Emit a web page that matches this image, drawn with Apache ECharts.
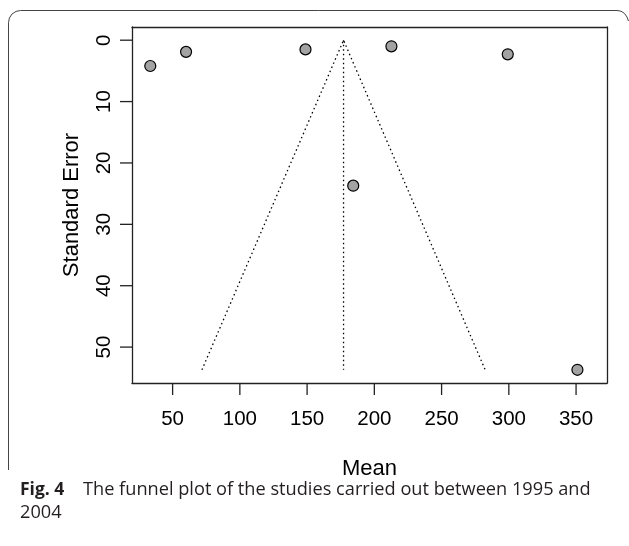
<!DOCTYPE html>
<html>
<head>
<meta charset="utf-8">
<script src="https://cdn.jsdelivr.net/npm/echarts@6/dist/echarts.min.js"></script>
<style>
html,body{margin:0;padding:0;background:#fff;}
#c{width:629px;height:546px;}
</style>
</head>
<body>
<div id="c"></div>
<script>
// Study points: [mean, standard error]
var studyMeans = [33.4, 60.0, 148.8, 212.7, 299.2, 184.3, 351.0];
var studySE    = [4.2, 1.9, 1.5, 1.0, 2.3, 23.7, 53.7];
// Funnel
var centerMean = 177.1;
var funnelLeftX = 71.8;
var funnelRightX = 282.4;
var funnelBottomSE = 53.7;
// Axes
var xTicks = [50, 100, 150, 200, 250, 300, 350];
var yTicks = [0, 10, 20, 30, 40, 50];
var xRange = [19.8, 373];
var yRange = [-2.15, 55.85];

var points = studyMeans.map(function(m, i){ return [m, studySE[i]]; });
var funnelData = [[funnelLeftX, funnelBottomSE], [centerMean, 0], [funnelRightX, funnelBottomSE]];
var centerData = [[centerMean, 0], [centerMean, funnelBottomSE]];
var xTickData = xTicks.map(function(v){ return [v, yRange[1]]; });
var yTickData = yTicks.map(function(v){ return [xRange[0], v]; });

var chart = echarts.init(document.getElementById('c'), null, {renderer:'canvas'});
var FONT = 'Liberation Sans, Arial, sans-serif';
var dotted = {color:'#000', width:1.3, type:[1.5, 3]};
var TICK_LEN = 12;

function frameAxis(base){
  return Object.assign({
    axisLine:{show:true, onZero:false, lineStyle:{color:'#222', width:1.3}},
    axisTick:{show:false}, axisLabel:{show:false}, splitLine:{show:false}
  }, base);
}

function tickSeries(data, horizontal){
  return {
    type:'custom', coordinateSystem:'cartesian2d', data:data, clip:false, silent:true, z:3,
    encode:{x:0, y:1},
    renderItem:function(params, api){
      var p = api.coord([api.value(0), api.value(1)]);
      var shape = horizontal
        ? {x1:p[0], y1:p[1], x2:p[0] - TICK_LEN, y2:p[1]}
        : {x1:p[0], y1:p[1], x2:p[0], y2:p[1] + TICK_LEN};
      return {type:'line', shape:shape, style:{stroke:'#222', lineWidth:1.3}};
    }
  };
}

chart.setOption({
  animation: false,
  backgroundColor: '#fff',
  grid: {left:132, right:22, top:27, bottom:163, show:false},
  xAxis: [{
    type:'value', min:xRange[0], max:xRange[1], position:'bottom',
    axisLine:{show:true, onZero:false, lineStyle:{color:'#222', width:1.3}},
    splitLine:{show:false},
    axisTick:{show:false},
    axisLabel:{customValues:xTicks, margin:26, fontFamily:FONT, fontSize:20.5, color:'#000'},
    name:'Mean', nameLocation:'middle', nameGap:75,
    nameTextStyle:{fontFamily:FONT, fontSize:22, color:'#000'}
  }, frameAxis({type:'value', min:xRange[0], max:xRange[1], position:'top'})],
  yAxis: [{
    type:'value', inverse:true, min:yRange[0], max:yRange[1], position:'left',
    axisLine:{show:true, onZero:false, lineStyle:{color:'#222', width:1.3}},
    splitLine:{show:false},
    axisTick:{show:false},
    axisLabel:{customValues:yTicks, rotate:90, margin:17, fontFamily:FONT, fontSize:20.5, color:'#000'},
    name:'Standard Error', nameLocation:'middle', nameGap:49, nameRotate:90,
    nameTextStyle:{fontFamily:FONT, fontSize:22, color:'#000'}
  }, frameAxis({type:'value', inverse:true, min:yRange[0], max:yRange[1], position:'right'})],
  series: [
    {type:'line', data:funnelData, showSymbol:false, symbol:'none', lineStyle:dotted, z:2, silent:true},
    {type:'line', data:centerData, showSymbol:false, symbol:'none', lineStyle:dotted, z:2, silent:true},
    tickSeries(xTickData, false),
    tickSeries(yTickData, true),
    {type:'scatter', data:points, symbol:'circle', symbolSize:11,
     itemStyle:{color:'#a3a3a3', borderColor:'#000', borderWidth:1.2, opacity:1}, z:5}
  ],
  graphic: [
    {type:'polyline', silent:true,
     shape:{points:[[8.5,470],[8.5,22.5],[9.4,18],[12,14],[16,11.4],[20.5,10.5],[617,10.5],[621,11.2],[624.5,13.5],[627,17],[628.5,21]]},
     style:{fill:null, stroke:'#444', lineWidth:1}},
    {type:'text', left:20, top:481, silent:true,
     style:{
       text:'{b|Fig. 4}{r|The funnel plot of the studies carried out between 1995 and}\n{r|2004}',
       rich:{
         b:{fontFamily:'Open Sans, sans-serif', fontWeight:'bold', fontSize:17.5, fill:'#231f20', lineHeight:23, width:63},
         r:{fontFamily:'Open Sans, sans-serif', fontSize:18.2, fill:'#231f20', lineHeight:23}
       }
     }}
  ]
});
</script>
</body>
</html>
